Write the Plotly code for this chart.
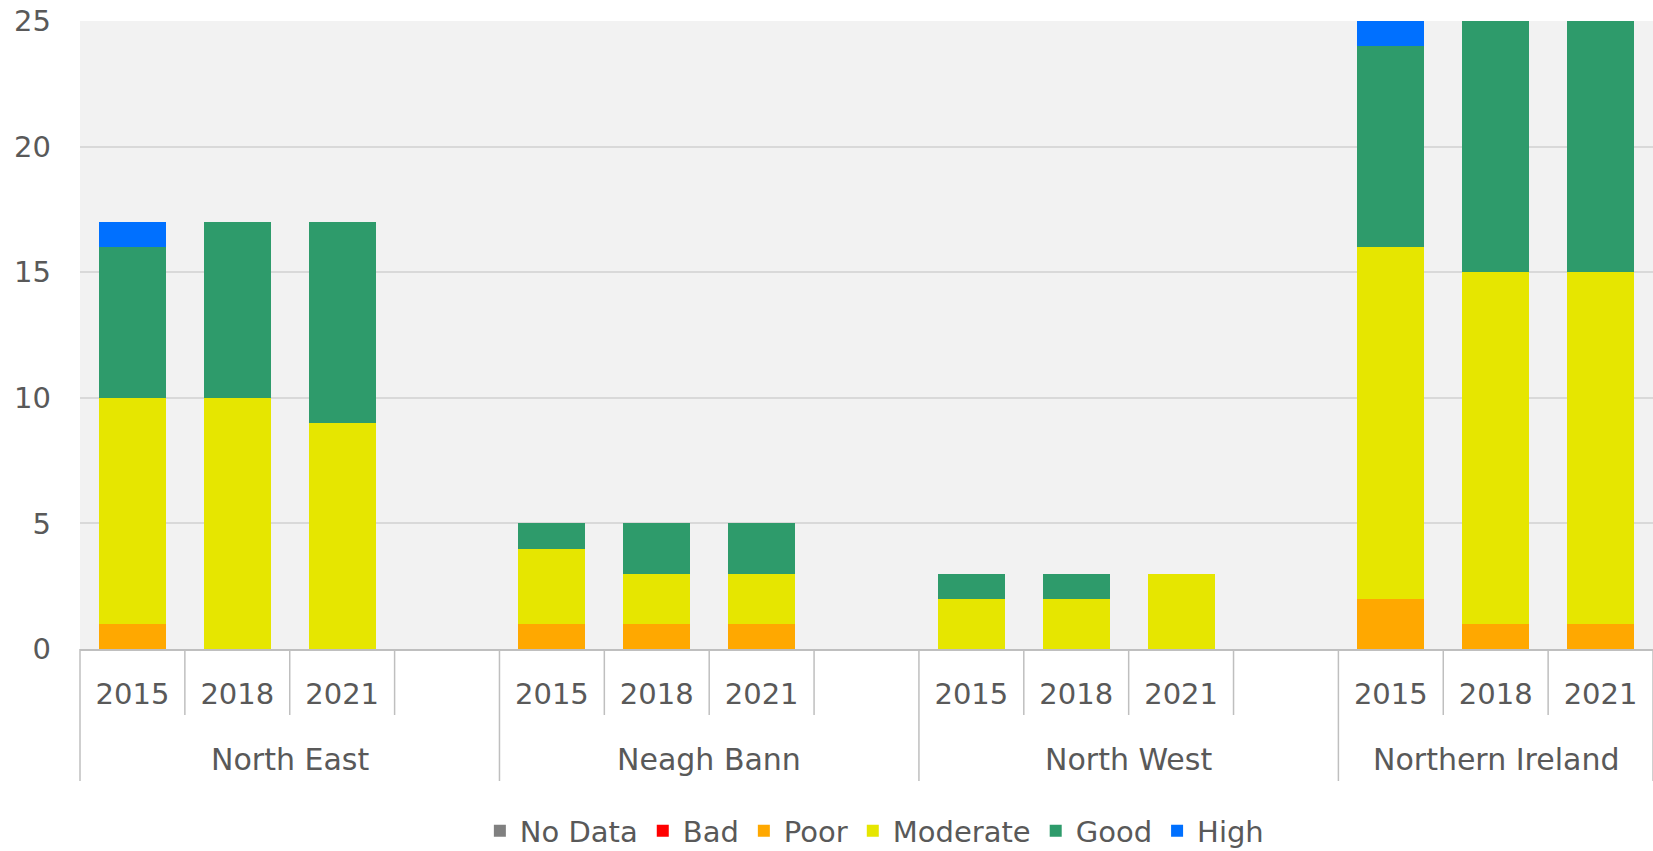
import plotly.graph_objects as go

regions = ["North East", "Neagh Bann", "North West", "Northern Ireland"]
years = ["2015", "2018", "2021"]

# values ordered region by region, years 2015, 2018, 2021
no_data = [0, 0, 0, 0, 0, 0, 0, 0, 0, 0, 0, 0]
bad = [0, 0, 0, 0, 0, 0, 0, 0, 0, 0, 0, 0]
poor = [1, 0, 0, 1, 1, 1, 0, 0, 0, 2, 1, 1]
moderate = [9, 10, 9, 3, 2, 2, 2, 2, 3, 14, 14, 14]
good = [6, 7, 8, 1, 2, 2, 1, 1, 0, 8, 10, 10]
high = [1, 0, 0, 0, 0, 0, 0, 0, 0, 1, 0, 0]

series = [
    ("No Data", no_data, "#808080"),
    ("Bad", bad, "#ff0000"),
    ("Poor", poor, "#ffa800"),
    ("Moderate", moderate, "#e6e600"),
    ("Good", good, "#2e9b6b"),
    ("High", high, "#0070ff"),
]

# build category slots: 3 years per region plus an empty spacer slot between regions
slots = []
slot_text = []
slot_src = []
k = 0
for ri, r in enumerate(regions):
    for y in years:
        slots.append(f"{r} {y}")
        slot_text.append(y)
        slot_src.append(k)
        k += 1
    if ri < len(regions) - 1:
        slots.append(f"{r} gap")
        slot_text.append("")
        slot_src.append(None)

n = len(slots)
W, H = 1653, 851
ML, MR, MT, MB = 80, 0, 21, 202
plot_h = H - MT - MB

FONT = "DejaVu Sans"
TXT = "#595959"
LINE = "#bfbfbf"

fig = go.Figure()
for name, vals, col in series:
    yv = [vals[s] if s is not None else None for s in slot_src]
    fig.add_trace(go.Bar(
        x=slots, y=yv, name=name,
        marker=dict(color=col, line=dict(width=0)),
    ))

# divider lines under the axis (category boundaries)
group_bounds = {0}
pos = 0
for ri in range(len(regions)):
    pos += 3 + (1 if ri < len(regions) - 1 else 0)
    group_bounds.add(pos)

shapes = []
short_len = 66 / plot_h
long_len = 132 / plot_h
for b in range(n + 1):
    xp = b / n
    y1 = -long_len if b in group_bounds else -short_len
    shapes.append(dict(type="line", xref="paper", yref="paper",
                       x0=xp, x1=xp, y0=0, y1=y1,
                       line=dict(color=LINE, width=1.5)))

# region labels centred under their groups
annotations = []
start = 0
for ri, r in enumerate(regions):
    width = 3 + (1 if ri < len(regions) - 1 else 0)
    xc = (start + width / 2) / n
    annotations.append(dict(text=r, xref="paper", yref="paper",
                            x=xc, y=-(110 / plot_h), yanchor="middle",
                            xanchor="center", showarrow=False,
                            font=dict(family=FONT, size=30, color=TXT)))
    start += width

fig.update_layout(
    width=W, height=H,
    margin=dict(l=ML, r=MR, t=MT, b=MB, autoexpand=False),
    barmode="stack",
    bargap=0.36,
    paper_bgcolor="white",
    plot_bgcolor="#f2f2f2",
    font=dict(family=FONT, size=29, color=TXT),
    showlegend=True,
    legend=dict(orientation="h", x=0.505, xanchor="center",
                yref="container", y=1 - 831 / H, yanchor="middle",
                font=dict(family=FONT, size=29, color=TXT),
                bgcolor="rgba(0,0,0,0)", traceorder="normal"),
    shapes=shapes,
    annotations=annotations,
    xaxis=dict(type="category", categoryorder="array", categoryarray=slots,
               tickvals=slots, ticktext=slot_text,
               range=[-0.5, n - 0.5], automargin=False,
               showline=True, linecolor=LINE, linewidth=1.5,
               showgrid=False, ticks="", ticklabelstandoff=18,
               tickfont=dict(family=FONT, size=29, color=TXT)),
    yaxis=dict(range=[0, 25], tickvals=[0, 5, 10, 15, 20, 25],
               automargin=False,
               showline=False, zeroline=False,
               gridcolor="#d9d9d9", gridwidth=1.5,
               ticks="", ticklabelstandoff=28,
               tickfont=dict(family=FONT, size=29, color=TXT)),
)

fig.write_html("out.html", config={"displayModeBar": False},
               post_script="document.body.style.margin='0';document.body.style.overflow='hidden';")
